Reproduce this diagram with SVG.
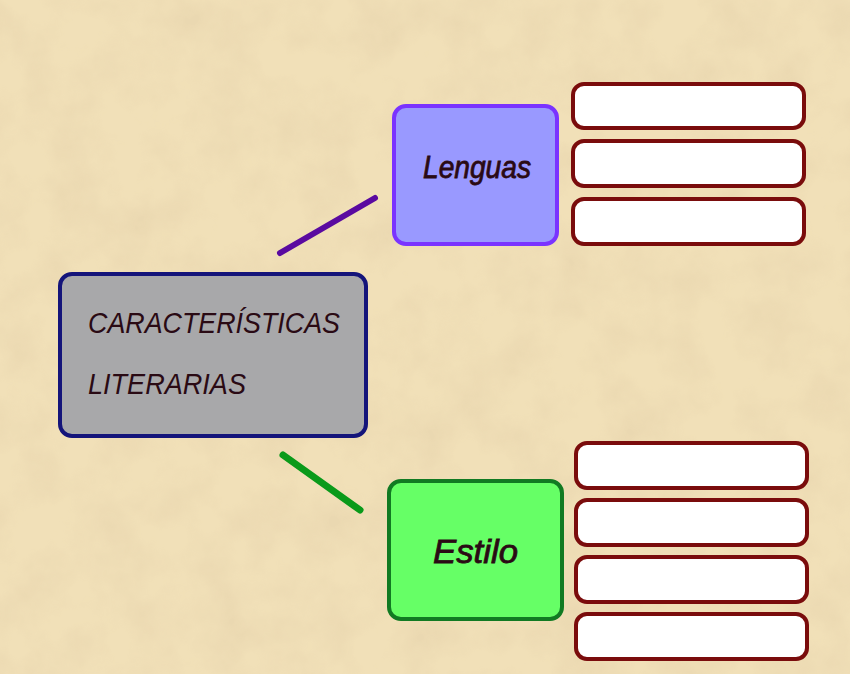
<svg xmlns="http://www.w3.org/2000/svg" width="850" height="674" viewBox="0 0 850 674">
<defs>
<filter id="paper" x="0" y="0" width="100%" height="100%">
<feTurbulence type="fractalNoise" baseFrequency="0.02" numOctaves="4" seed="7" result="n"/>
<feColorMatrix in="n" type="matrix" values="0 0 0 0 0.80  0 0 0 0 0.66  0 0 0 0 0.42  0 0 0 -2 1.3" result="c"/>
<feComposite in="c" in2="SourceGraphic" operator="in"/>
</filter>
<style>
.sub{fill:#ffffff;stroke:#7a0c0c;stroke-width:4}
.lbl{font-family:"Liberation Sans","DejaVu Sans",sans-serif;font-style:italic;fill:#2a0a14}
</style>
</defs>
<rect x="0" y="0" width="850" height="674" fill="#f1e0b8"/>
<rect x="0" y="0" width="850" height="674" fill="#ffffff" filter="url(#paper)" opacity="0.6"/>
<g id="connectors" stroke-linecap="round">
<line x1="280" y1="253" x2="375" y2="198" stroke="#5a0aa0" stroke-width="6"/>
<line x1="283" y1="455" x2="360" y2="510" stroke="#0a9a1a" stroke-width="7"/>
</g>
<g id="caracteristicas">
<rect x="60" y="274" width="306" height="162" rx="12" fill="#a8a8aa" stroke="#14147a" stroke-width="4"/>
<text class="lbl" x="88" y="333" font-size="30" textLength="252" lengthAdjust="spacingAndGlyphs">CARACTERÍSTICAS</text>
<text class="lbl" x="88" y="394" font-size="30" textLength="158" lengthAdjust="spacingAndGlyphs">LITERARIAS</text>
</g>
<g id="lenguas">
<rect x="394" y="106" width="163" height="138" rx="12" fill="#9999ff" stroke="#7a33ff" stroke-width="4"/>
<text class="lbl" x="423" y="178" font-size="32" textLength="108" lengthAdjust="spacingAndGlyphs" stroke="#2a0a14" stroke-width="0.8">Lenguas</text>
</g>
<g id="estilo">
<rect x="389" y="481" width="173" height="138" rx="12" fill="#66ff66" stroke="#117a22" stroke-width="4"/>
<text class="lbl" x="433" y="563" font-size="34" textLength="85" lengthAdjust="spacingAndGlyphs" stroke="#2a0a14" stroke-width="0.8">Estilo</text>
</g>
<g id="lenguas-items">
<rect class="sub" x="573" y="84" width="231" height="44" rx="11"/>
<rect class="sub" x="573" y="141" width="231" height="45" rx="11"/>
<rect class="sub" x="573" y="199" width="231" height="45" rx="11"/>
</g>
<g id="estilo-items">
<rect class="sub" x="576" y="443" width="231" height="45" rx="11"/>
<rect class="sub" x="576" y="500" width="231" height="45" rx="11"/>
<rect class="sub" x="576" y="557" width="231" height="45" rx="11"/>
<rect class="sub" x="576" y="614" width="231" height="45" rx="11"/>
</g>
</svg>
